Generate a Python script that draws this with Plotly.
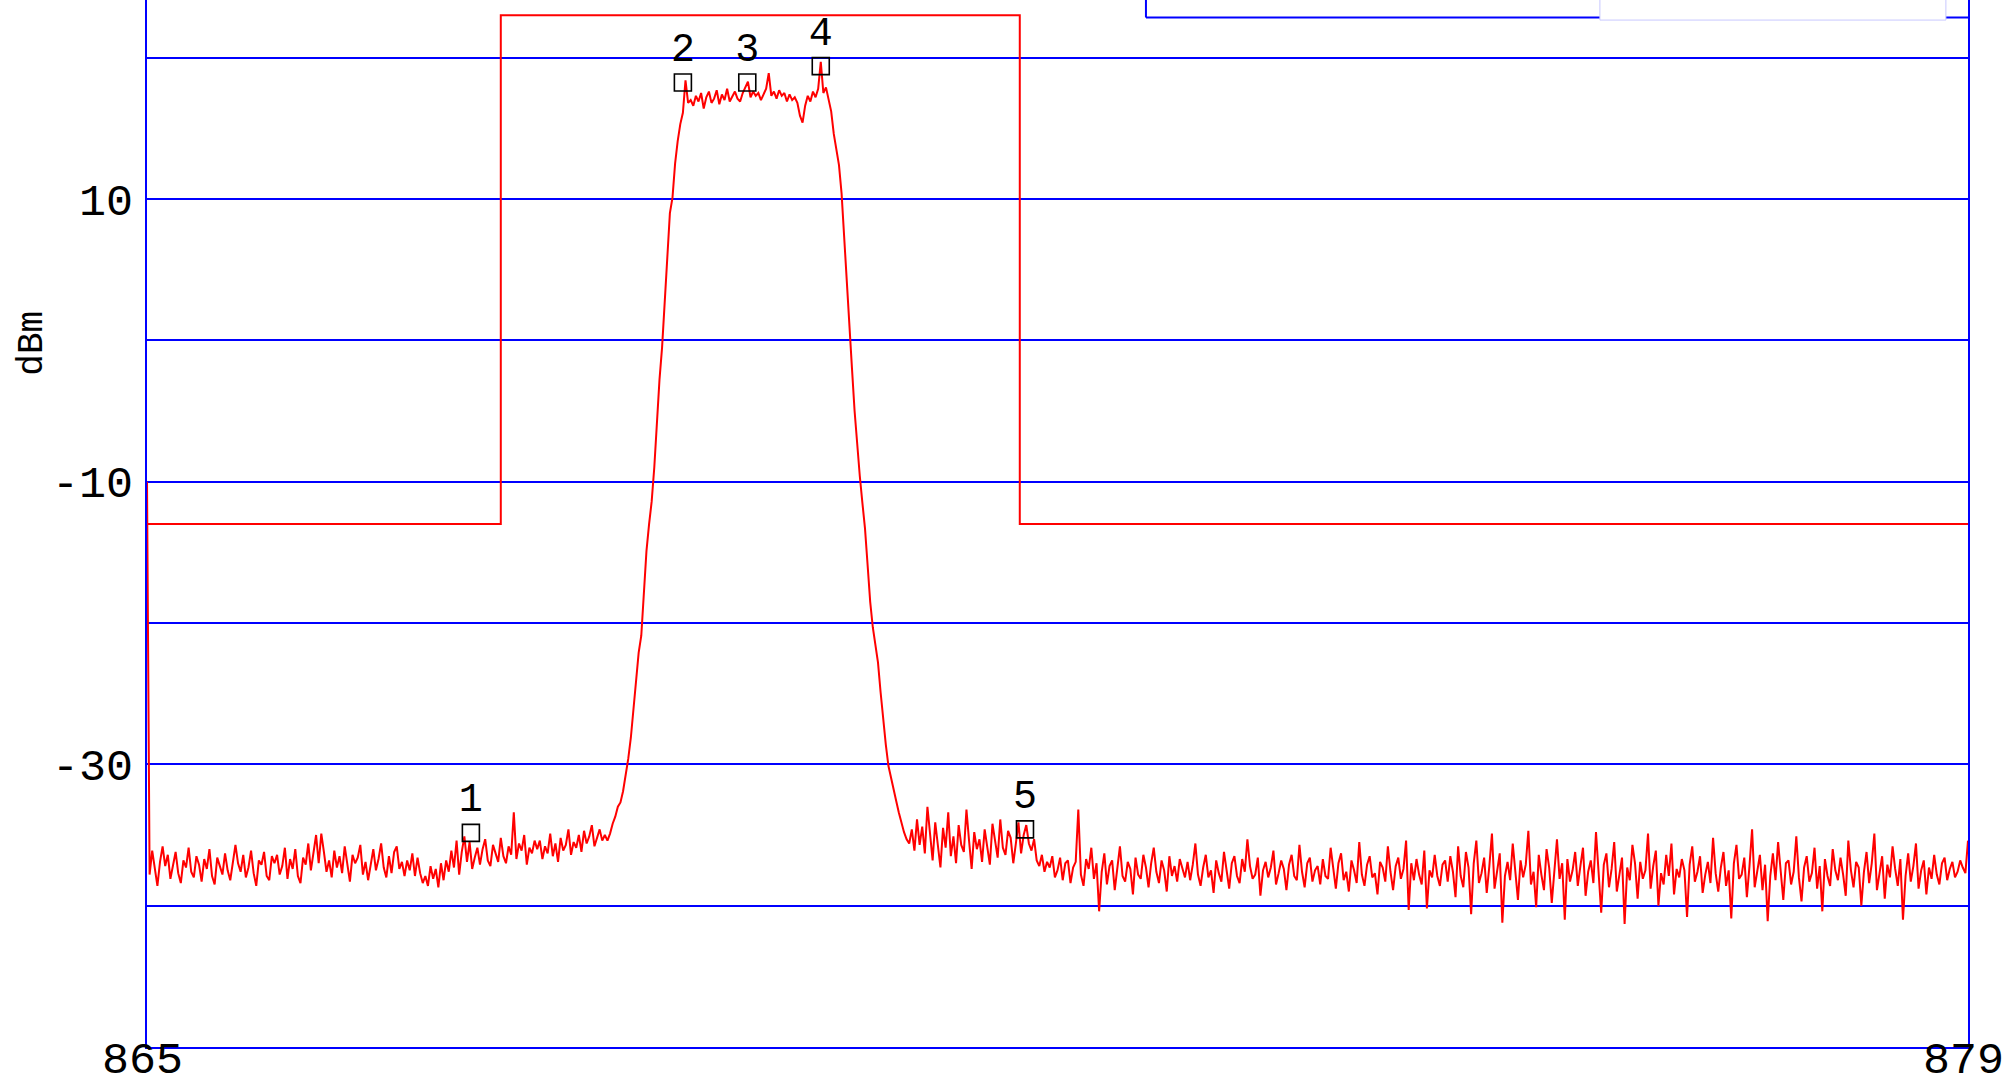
import numpy as np
import plotly.graph_objects as go

# ---------------- data ----------------
f_start, f_stop, f_step = 865.0, 879.0, 0.02   # sweep: 701 points

lvl_865 = [-10.0, -37.8, -36.1, -37.5, -38.6, -36.9, -35.8, -37.2, -36.4, -38.1,
           -37.0, -36.2, -37.7, -38.4, -36.8, -37.3, -35.9, -37.6, -38.0, -36.5,
           -37.1, -38.3, -36.7, -37.4, -36.0, -37.9, -38.5, -36.6, -37.2, -37.8,
           -36.3, -37.5, -38.2, -36.9, -35.7, -37.0, -37.6, -36.4, -38.0, -37.3,
           -36.1, -37.7, -38.6, -36.8, -37.1, -36.2, -37.9, -38.2, -36.5, -37.0]
lvl_866 = [-36.4, -37.8, -37.2, -35.9, -38.1, -36.7, -37.4, -36.0, -37.9, -38.4,
           -36.6, -37.1, -35.6, -37.5, -36.3, -35.0, -37.0, -34.9, -36.2, -37.6,
           -36.8, -38.0, -36.1, -37.3, -36.5, -37.7, -35.8, -37.2, -38.3, -36.4,
           -37.0, -36.6, -35.7, -37.8, -36.9, -38.2, -37.1, -36.0, -37.5, -36.7,
           -35.6, -37.3, -38.0, -36.5, -37.7, -36.2, -35.8, -37.4, -36.9, -37.9]
lvl_867 = [-36.8, -37.5, -36.3, -37.9, -36.6, -37.7, -38.4, -37.9, -38.6, -37.2,
           -38.1, -37.4, -38.7, -37.0, -38.2, -36.8, -37.6, -36.1, -37.3, -35.4,
           -37.8, -36.2, -35.1, -36.9, -35.5, -37.4, -36.6, -35.9, -37.1, -36.0,
           -35.3, -36.8, -37.2, -35.7, -36.3, -36.9, -35.2, -36.5, -37.0, -35.8,
           -36.4, -33.4, -36.7, -35.6, -36.1, -35.0, -37.1, -35.9, -36.3, -35.4]
lvl_868 = [-36.0, -35.4, -36.7, -35.8, -36.3, -34.9, -36.5, -35.6, -36.9, -35.2,
           -36.1, -35.7, -34.6, -36.4, -35.5, -35.9, -35.0, -36.2, -34.7, -35.6,
           -35.1, -34.3, -35.8, -35.2, -34.6, -35.4, -35.0, -35.4, -34.9, -34.2,
           -33.7, -33.0, -32.7, -31.9, -30.8, -29.6, -28.1, -26.2, -24.3, -22.1,
           -20.9, -17.6, -14.9, -13.0, -11.4, -9.0, -5.8, -2.8, -0.5, 2.6]
lvl_869 = [6.6, 9.0, 10.1, 12.5, 14.1, 15.3, 16.1, 18.4, 16.8, 17.0,
           16.6, 17.3, 16.9, 17.5, 16.4, 17.2, 17.6, 16.8, 17.1, 17.7,
           16.7, 17.4, 17.0, 17.8, 16.9, 17.3, 17.6, 17.1, 16.9, 17.5,
           17.9, 18.3, 17.2, 17.6, 17.3, 17.5, 17.0, 17.4, 17.8, 18.9,
           17.3, 17.6, 17.1, 17.7, 17.3, 17.5, 16.9, 17.4, 17.0, 17.2]
lvl_870 = [16.8, 15.9, 15.4, 16.6, 17.3, 16.9, 17.6, 17.2, 17.8, 19.7,
           17.5, 17.9, 17.1, 16.2, 14.6, 13.6, 12.4, 10.4, 7.1, 4.0,
           1.0, -2.0, -5.0, -7.4, -9.6, -11.5, -13.3, -15.9, -18.5, -20.3,
           -21.4, -22.8, -24.9, -26.9, -28.6, -30.1, -31.0, -31.8, -32.6, -33.4,
           -34.2, -34.8, -35.3, -35.6, -34.6, -36.1, -33.9, -35.7, -34.4, -36.3]
lvl_871 = [-33.0, -35.2, -36.8, -34.1, -35.6, -37.3, -34.5, -35.9, -33.4, -36.5,
           -35.1, -37.0, -34.3, -35.7, -36.2, -33.2, -35.4, -37.4, -34.8, -36.0,
           -35.3, -36.9, -34.6, -35.8, -37.1, -34.2, -35.5, -36.6, -33.9, -35.9,
           -36.4, -34.7, -35.2, -37.0, -35.6, -34.1, -36.3, -35.0, -34.3, -35.6,
           -36.1, -35.3, -36.8, -37.2, -36.4, -37.6, -36.9, -37.3, -36.5, -38.0]
lvl_872 = [-37.5, -36.6, -38.2, -37.0, -36.8, -38.4, -37.3, -36.9, -33.2, -37.8,
           -38.6, -36.7, -37.4, -35.9, -38.1, -37.0, -40.4, -37.6, -36.3, -38.5,
           -37.2, -36.8, -38.9, -37.5, -35.8, -37.9, -38.3, -36.9, -37.4, -39.2,
           -36.6, -37.8, -38.1, -36.4, -37.3, -38.7, -37.0, -35.9, -37.6, -38.4,
           -36.8, -37.5, -39.0, -36.5, -37.9, -37.2, -38.3, -36.7, -37.4, -38.0]
lvl_873 = [-36.9, -38.2, -37.1, -35.6, -37.8, -38.6, -37.3, -36.4, -38.0, -37.5,
           -39.1, -36.8, -37.7, -38.3, -36.2, -37.4, -38.8, -37.0, -36.5, -37.9,
           -38.4, -36.7, -37.6, -35.3, -37.2, -38.1, -37.8, -36.6, -39.3, -37.5,
           -36.9, -38.0, -37.3, -36.1, -38.5, -37.7, -36.8, -37.4, -38.9, -37.1,
           -36.4, -37.9, -38.2, -35.7, -37.6, -38.7, -37.0, -36.6, -38.3, -37.5]
lvl_874 = [-37.2, -38.5, -36.7, -37.9, -38.1, -35.9, -37.4, -38.8, -37.0, -36.3,
           -38.2, -37.6, -39.0, -36.8, -37.5, -38.4, -35.5, -37.8, -38.6, -37.1,
           -36.5, -38.0, -37.7, -39.2, -36.9, -37.3, -38.3, -35.8, -37.6, -38.9,
           -37.2, -36.6, -38.1, -37.4, -35.4, -40.3, -37.0, -38.2, -36.7, -37.8,
           -38.5, -36.1, -40.2, -37.5, -38.0, -36.4, -37.9, -38.6, -37.1, -36.8]
lvl_875 = [-38.3, -36.5, -37.6, -39.4, -35.8, -37.9, -38.7, -36.2, -37.3, -40.6,
           -37.0, -35.4, -38.4, -37.7, -36.6, -39.1, -37.2, -34.9, -38.8, -37.5,
           -36.3, -41.2, -37.9, -36.9, -38.2, -35.6, -37.4, -39.6, -36.8, -38.0,
           -37.1, -34.7, -38.5, -37.6, -40.1, -36.4, -37.8, -38.9, -36.0, -37.3,
           -39.8, -37.7, -35.3, -38.1, -37.0, -41.0, -36.7, -38.3, -37.5, -36.2]
lvl_876 = [-38.6, -37.2, -35.9, -39.3, -37.6, -36.8, -38.4, -34.8, -37.9, -40.5,
           -37.1, -36.3, -38.7, -37.4, -35.5, -39.0, -37.8, -36.6, -41.3, -37.3,
           -38.2, -35.7, -37.0, -39.5, -36.9, -38.1, -37.5, -34.9, -38.8, -37.2,
           -36.1, -40.0, -37.7, -38.5, -36.4, -37.9, -35.6, -39.2, -37.4, -38.0,
           -36.7, -37.5, -40.8, -37.1, -35.8, -38.3, -37.6, -36.5, -39.1, -37.8]
lvl_877 = [-36.9, -38.4, -35.2, -37.7, -39.0, -37.3, -36.2, -38.6, -37.5, -40.9,
           -37.0, -35.7, -38.1, -37.8, -36.6, -39.4, -37.2, -34.6, -38.7, -37.6,
           -36.4, -38.9, -37.1, -41.1, -37.9, -36.3, -38.2, -35.5, -37.4, -39.6,
           -37.0, -36.8, -38.5, -37.6, -35.1, -38.0, -39.7, -37.3, -36.5, -38.3,
           -37.7, -35.9, -38.8, -37.2, -40.4, -36.7, -37.9, -38.6, -36.0, -37.5]
lvl_878 = [-38.2, -36.6, -37.8, -39.3, -35.4, -37.5, -38.7, -36.9, -37.3, -40.0,
           -37.6, -36.2, -38.4, -37.0, -34.9, -38.9, -37.7, -36.5, -39.5, -37.1,
           -38.0, -35.8, -37.4, -38.6, -36.7, -41.0, -37.9, -36.3, -38.3, -37.2,
           -35.6, -38.8, -37.5, -36.8, -39.2, -37.3, -38.1, -36.4, -37.8, -38.5,
           -37.0, -36.6, -38.2, -37.4, -36.9, -38.0, -37.6, -36.8, -37.3, -37.7]
lvl_879 = [-35.4]

# limit mask (red)
mask_freq = [865.0, 867.72, 867.72, 871.71, 871.71, 879.0]
mask_dbm = [-13.0, -13.0, 23.0, 23.0, -13.0, -13.0]

# markers
marker_labels = ["1", "2", "3", "4", "5"]
marker_freq = [867.49, 869.12, 869.615, 870.18, 871.75]
marker_dbm = [-34.85, 18.24, 18.24, 19.4, -34.6]

# axis ticks
y_tickvals = [-50, -40, -30, -20, -10, 0, 10, 20]
y_ticktext = ["", "", "-30", "", "-10", "", "10", ""]
x_tickvals = [865, 879]
x_ticktext = ["865", "879"]

# ------------------------------------------------------------------------
level = (lvl_865 + lvl_866 + lvl_867 + lvl_868 + lvl_869 + lvl_870 + lvl_871 +
         lvl_872 + lvl_873 + lvl_874 + lvl_875 + lvl_876 + lvl_877 + lvl_878 + lvl_879)
freq = np.round(np.arange(len(level)) * f_step + f_start, 4)

BLUE = "#0000ff"
RED = "#ff0000"
FONT = "Liberation Mono"
TICK_SIZE = 45

fig = go.Figure()
fig.add_trace(go.Scatter(x=mask_freq, y=mask_dbm, mode="lines",
                         line=dict(color=RED, width=2), hoverinfo="skip"))
fig.add_trace(go.Scatter(x=freq, y=level, mode="lines",
                         line=dict(color=RED, width=2)))
fig.add_trace(go.Scatter(x=marker_freq, y=marker_dbm, mode="markers+text",
                         text=marker_labels, textposition="top center",
                         textfont=dict(family=FONT, size=40, color="#000000"),
                         marker=dict(symbol="square-open", size=17,
                                     color="#000000", line=dict(width=1.6))))

# top-right (cropped) table box
fig.add_shape(type="line", x0=872.68, x1=872.68, y0=22.84, y1=24.5,
              line=dict(color=BLUE, width=2))
fig.add_shape(type="line", x0=872.68, x1=879.0, y0=22.84, y1=22.84,
              line=dict(color=BLUE, width=2))
fig.add_shape(type="rect", x0=876.17, x1=878.83, y0=22.66, y1=24.5,
              fillcolor="white", line=dict(color="#c8c8ff", width=1))

# x tick labels (placed just under the axis line)
for xv, xt in zip(x_tickvals, x_ticktext):
    fig.add_annotation(text=xt, x=xv, xref="x", y=0, yref="paper",
                       xanchor="center", yanchor="bottom", yshift=-41,
                       xshift=-5, showarrow=False, borderpad=0,
                       font=dict(family=FONT, size=TICK_SIZE, color="#000000"))

fig.add_annotation(text="dBm", xref="paper", yref="paper", x=-0.063, y=0.672,
                   xanchor="center", yanchor="middle",
                   showarrow=False, textangle=-90,
                   font=dict(family=FONT, size=36, color="#000000"))

fig.update_layout(
    width=2007, height=1089,
    margin=dict(l=147, r=39, t=0, b=42, autoexpand=False),
    paper_bgcolor="white", plot_bgcolor="white",
    showlegend=False,
    font=dict(family=FONT, color="#000000"),
)
fig.update_xaxes(range=[865, 879], tickmode="array", tickvals=x_tickvals,
                 showticklabels=False, automargin=False,
                 showgrid=False, zeroline=False,
                 showline=True, linecolor=BLUE, linewidth=2, mirror=False,
                 ticks="")
fig.update_yaxes(range=[-50, 24.08], tickmode="array", tickvals=y_tickvals,
                 ticktext=y_ticktext, showgrid=True, gridcolor=BLUE, gridwidth=2,
                 zeroline=False, showline=True, linecolor=BLUE, linewidth=2,
                 mirror=True, ticks="", ticklabelstandoff=3, automargin=False,
                 tickfont=dict(family=FONT, size=TICK_SIZE, color="#000000"))

fig.write_html("out.html")
